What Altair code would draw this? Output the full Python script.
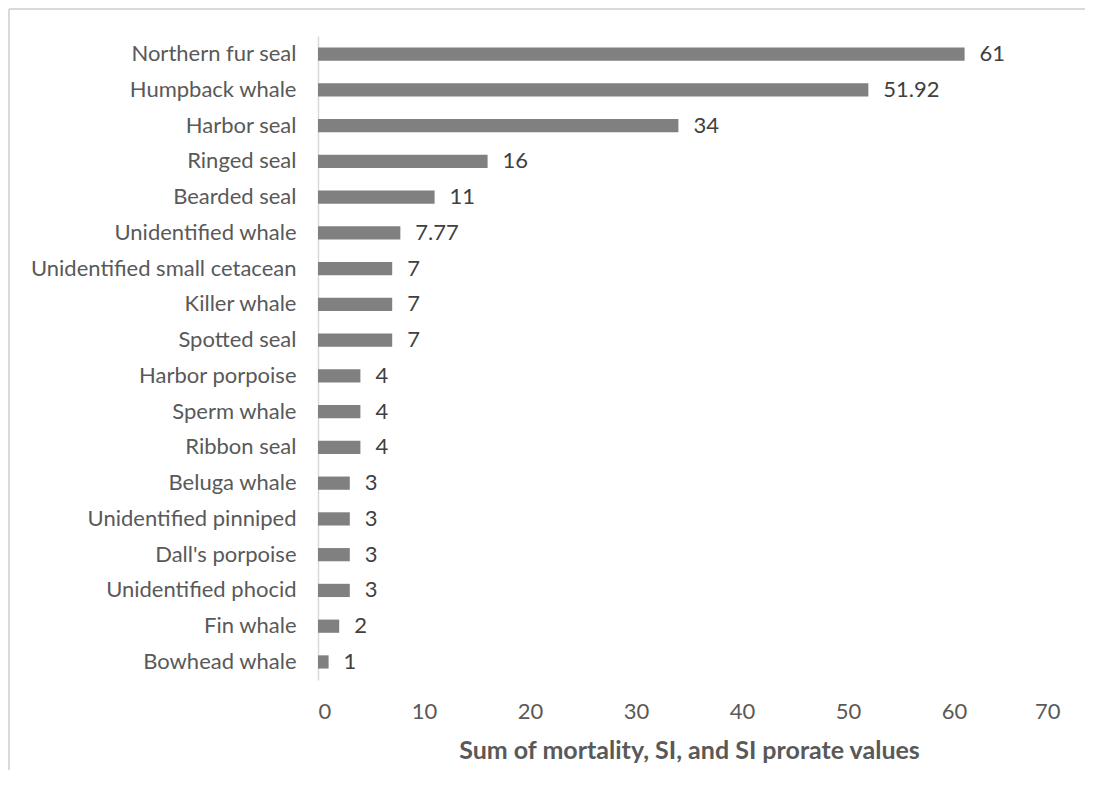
import altair as alt
import pandas as pd

species = ["Northern fur seal", "Humpback whale", "Harbor seal", "Ringed seal",
           "Bearded seal", "Unidentified whale", "Unidentified small cetacean",
           "Killer whale", "Spotted seal", "Harbor porpoise", "Sperm whale",
           "Ribbon seal", "Beluga whale", "Unidentified pinniped", "Dall's porpoise",
           "Unidentified phocid", "Fin whale", "Bowhead whale"]
values = [61, 51.92, 34, 16, 11, 7.77, 7, 7, 7, 4, 4, 4, 3, 3, 3, 3, 2, 1]
labels = ["61", "51.92", "34", "16", "11", "7.77", "7", "7", "7", "4", "4", "4",
          "3", "3", "3", "3", "2", "1"]

df = pd.DataFrame({"species": species, "value": values, "label": labels})

FONT = "Lato"
FS = 22

y_enc = alt.Y("species:N", sort=species, title=None,
              scale=alt.Scale(paddingInner=0.63, paddingOuter=0.32),
              axis=alt.Axis(ticks=False, domainColor="#d9d9d9", domainWidth=1.5,
                            labelFont=FONT, labelFontSize=FS, labelColor="#595959",
                            labelPadding=22, labelLimit=400))
x_enc = alt.X("value:Q", title="Sum of mortality, SI, and SI prorate values",
              scale=alt.Scale(domain=[0, 70], nice=False),
              axis=alt.Axis(values=[0, 10, 20, 30, 40, 50, 60, 70], grid=False,
                            domain=False, ticks=False, labelFont=FONT,
                            labelFontSize=FS, labelColor="#595959", labelPadding=21,
                            titleFont=FONT, titleFontSize=25, titleFontWeight="bold",
                            titleColor="#595959", titlePadding=16))

bars = alt.Chart(df).mark_bar(color="#808080").encode(y=y_enc, x=x_enc)
text = alt.Chart(df).mark_text(align="left", baseline="middle", dx=15, font=FONT,
                               fontSize=FS, color="#404040").encode(
    y=alt.Y("species:N", sort=species), x="value:Q", text="label:N")

border_top = alt.Chart(df).mark_rule(color="#d9d9d9", strokeWidth=2).encode(
    x=alt.value(-309), x2=alt.value(790), y=alt.value(-27))
border_left = alt.Chart(df).mark_rule(color="#d9d9d9", strokeWidth=2).encode(
    x=alt.value(-309), y=alt.value(-27), y2=alt.value(760))

chart = alt.layer(bars, text, border_top, border_left).properties(
    width=742, height=644,
    autosize=alt.AutoSizeParams(type="none"),
    padding={"left": 310, "top": 28, "right": 25, "bottom": 90},
    background="white",
).configure_view(stroke=None)

chart.save("out.html", embed_options={"renderer": "svg", "actions": False})
